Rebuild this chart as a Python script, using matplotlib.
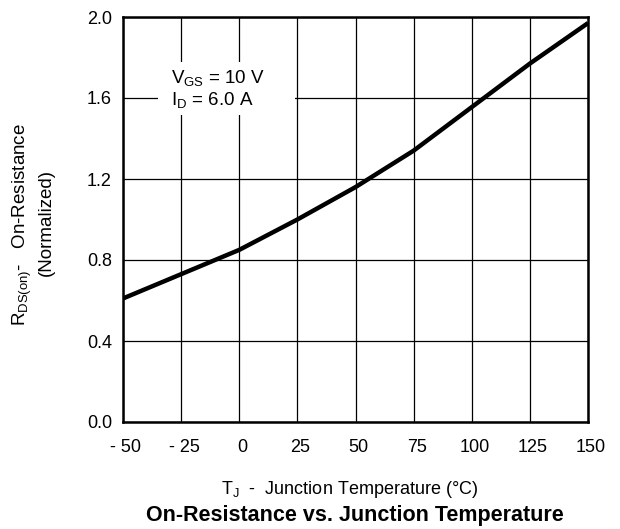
import numpy as np
import matplotlib
matplotlib.use("Agg")
import matplotlib.pyplot as plt
import matplotlib.transforms as mtransforms
from matplotlib.patches import Rectangle

plt.rcParams['font.family'] = ['Liberation Sans', 'DejaVu Sans']

temp = [-50, -25, 0, 25, 50, 75, 100, 125, 150]
rds_norm = [0.61, 0.73, 0.85, 1.0, 1.16, 1.34, 1.555, 1.77, 1.97]
xticks = [-50, -25, 0, 25, 50, 75, 100, 125, 150]
xtick_labels = ['- 50', '- 25', '0', '25', '50', '75', '100', '125', '150']
yticks = [0.0, 0.4, 0.8, 1.2, 1.6, 2.0]

fig = plt.figure(figsize=(6.2, 5.29), dpi=100)
ax = fig.add_axes([123/620, 1-422/529, 465/620, 405/529])

ax.plot(temp, rds_norm, color='black', lw=3.2, solid_capstyle='butt', zorder=3)
ax.set_xlim(-50, 150)
ax.set_ylim(0, 2.0)
ax.set_xticks(xticks)
ax.set_xticklabels(xtick_labels)
ax.set_yticks(yticks)
ax.set_yticklabels(['%.1f' % v for v in yticks])
ax.grid(True, color='black', lw=0.9)
ax.tick_params(length=0, labelsize=13)
ax.tick_params(axis='x', pad=12)
ax.tick_params(axis='y', pad=8)
for s in ax.spines.values():
    s.set_linewidth(1.8)

shift = mtransforms.ScaledTranslation(3/100, 0, fig.dpi_scale_trans)
for lbl in ax.get_xticklabels():
    lbl.set_transform(lbl.get_transform() + shift)

# white box behind the conditions text (breaks the grid)
ax.add_patch(Rectangle((0.075, 0.758), 0.295, 0.131, transform=ax.transAxes,
                       facecolor='white', edgecolor='none', zorder=2))
ax.text(-29.4, 1.674, '$\\mathregular{V_{GS}}$ = 10 V', fontsize=13.5,
        va='baseline', ha='left', zorder=4)
ax.text(-29.4, 1.565, '$\\mathregular{I_D}$ = 6.0 A', fontsize=13.5,
        va='baseline', ha='left', zorder=4)

fig.text(22/620, 1-225/529, '$\\mathregular{R_{DS(on)}}$-   On-Resistance',
         rotation=90, ha='center', va='center', fontsize=13.5)
fig.text(46/620, 1-222/529, '(Normalized)',
         rotation=90, ha='center', va='center', fontsize=13.5)

fig.text(350/620, 1-490/529, '$\\mathregular{T_J}$  -  Junction Temperature (\u00b0C)',
         ha='center', va='center', fontsize=13)
fig.text(355/620, 1-516/529, 'On-Resistance vs. Junction Temperature',
         ha='center', va='center', fontsize=15.5, fontweight='bold')

plt.savefig('out.png', dpi=100)
